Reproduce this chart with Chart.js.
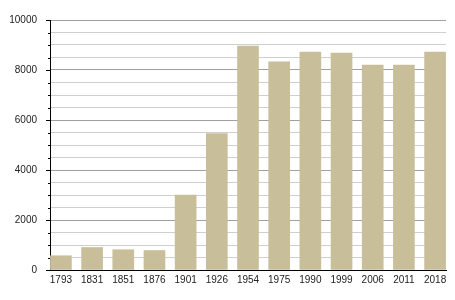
<!DOCTYPE html>
<html>
<head>
<meta charset="utf-8">
<script src="https://cdn.jsdelivr.net/npm/chart.js@4/dist/chart.umd.min.js"></script>
<style>
  html, body { margin: 0; padding: 0; background: #ffffff; }
  #wrap { width: 455px; height: 300px; }
</style>
</head>
<body>
<div id="wrap"><canvas id="grafico"></canvas></div>
<script>
// Datos de población
const anios = ["1793", "1831", "1851", "1876", "1901", "1926", "1954", "1975", "1990", "1999", "2006", "2011", "2018"];
const poblacion = [570, 900, 810, 780, 3000, 5460, 8960, 8330, 8720, 8680, 8200, 8200, 8720];
const etiquetasY = [0, 2000, 4000, 6000, 8000, 10000];

// marcas pequeñas a la izquierda del eje Y
const marcasEjeY = {
    id: "marcasEjeY",
    afterDraw(chart) {
        const y = chart.scales.y;
        const c = chart.ctx;
        c.save();
        c.strokeStyle = "#000";
        c.lineWidth = 1;
        y.ticks.forEach(function (t) {
            const py = Math.round(y.getPixelForValue(t.value)) + 0.5;
            const largo = etiquetasY.includes(t.value) ? 4 : 2;
            c.beginPath();
            c.moveTo(y.right - largo, py);
            c.lineTo(y.right, py);
            c.stroke();
        });
        c.restore();
    }
};

document.addEventListener("DOMContentLoaded", function () {
    const ctx = document.getElementById("grafico").getContext("2d");
    new Chart(ctx, {
        type: "bar",
        data: {
            datasets: [{
                data: poblacion.map(function (v, i) { return { x: i, y: v }; }),
                backgroundColor: "#c8bf9a",
                borderWidth: 0,
                barThickness: 21,
            }],
        },
        options: {
            responsive: true,
            maintainAspectRatio: false,
            animation: false,
            layout: { padding: { top: 20, right: 9, left: 0, bottom: 0 } },
            plugins: { legend: { display: false }, tooltip: { enabled: false } },
            scales: {
                x: {
                    type: "linear",
                    min: -0.35,
                    max: 12.35,
                    offset: false,
                    grid: { display: false, drawTicks: false },
                    border: { display: true, color: "#000", width: 1 },
                    ticks: {
                        stepSize: 1,
                        includeBounds: false,
                        autoSkip: false,
                        maxRotation: 0,
                        padding: 4,
                        color: "#222",
                        font: { family: "Liberation Sans", size: 10 },
                        callback: function (v) { return Number.isInteger(v) ? anios[v] : ""; },
                    },
                    afterFit: function (s) { s.height = 30; },
                },
                y: {
                    min: 0,
                    max: 10000,
                    grid: {
                        drawTicks: false,
                        color: function (c) { return c.tick && c.tick.value % 2000 === 0 ? "#a0a0a0" : "#cfcfcf"; },
                    },
                    border: { display: true, color: "#000", width: 1 },
                    ticks: {
                        stepSize: 500,
                        autoSkip: false,
                        padding: 13,
                        color: "#222",
                        font: { family: "Liberation Sans", size: 10 },
                        callback: function (v) { return etiquetasY.includes(v) ? String(v) : ""; },
                    },
                    afterFit: function (s) { s.width = 50; },
                },
            },
        },
        plugins: [marcasEjeY],
    });
});
</script>
</body>
</html>
